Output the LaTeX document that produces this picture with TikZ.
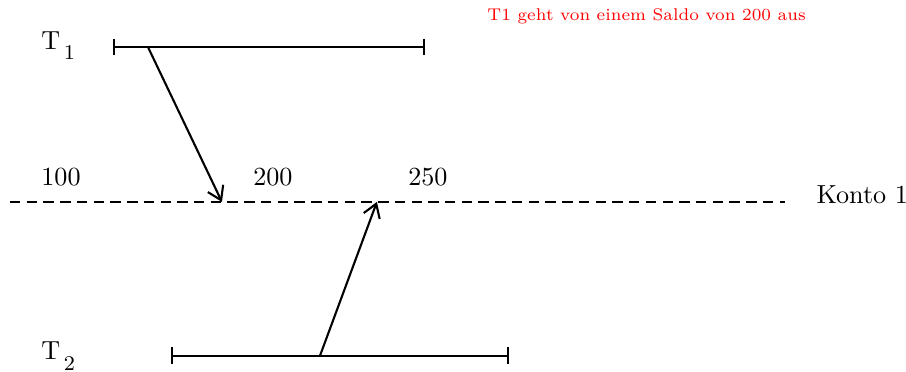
\documentclass[tikz,border=0pt]{standalone}
\usepackage{tikz}
\usetikzlibrary{arrows.meta, positioning}
\newcommand{\trans}[1]{T\kern1.4pt\raisebox{-3.9pt}{\footnotesize #1}}
\tikzset{
  interval/.style={
    thick,
    {Bar[width=6.5pt]}-{Bar[width=6.5pt]}
  },
  konto/.style={
    thick,
    dash pattern=on 4pt off 2.4pt
  },
  arrow/.style={
    -{Straight Barb[length=5pt,width=6.5pt]},
    thick
  },
  wert/.style={
    anchor=base,
    inner sep=0pt
  },
  label/.style={
    anchor=base west,
    inner sep=0pt
  }
}

\begin{document}
\begin{tikzpicture}
\useasboundingbox (0,0) rectangle (12.18,5.0);

% Transaktionen
\coordinate (t1s) at (1.519,4.368);
\coordinate (t1e) at (5.712,4.368);
\coordinate (t2s) at (2.298,0.215);
\coordinate (t2e) at (6.841,0.215);
\node[label] (t1) at (0.55,4.34) {\trans{1}};
\node[label] (t2) at (0.55,0.161) {\trans{2}};
\draw[interval] (t1s) -- (t1e);
\draw[interval] (t2s) -- (t2e);

% Konto
\coordinate (ks) at (0.134,2.285);
\coordinate (ke) at (10.55,2.285);
\draw[konto] (ks) -- (ke);
\node[label] (konto) at (10.97,2.258) {Konto 1};
\node[wert] (w100) at (0.82,2.5) {100};
\node[wert] (w200) at (3.669,2.5) {200};
\node[wert] (w250) at (5.753,2.5) {250};

% Lesen / Schreiben
\coordinate (r1) at (1.989,4.368);
\coordinate (k1) at (2.984,2.285);
\coordinate (r2) at (4.301,0.215);
\coordinate (k2) at (5.067,2.285);
\draw[arrow] (r1) -- (k1);
\draw[arrow] (r2) -- (k2);

\node[label, text=red, font=\fontsize{6.5}{8}\selectfont] (note) at (6.546,4.722) {T1 geht von einem Saldo von 200 aus};
\end{tikzpicture}
\end{document}
